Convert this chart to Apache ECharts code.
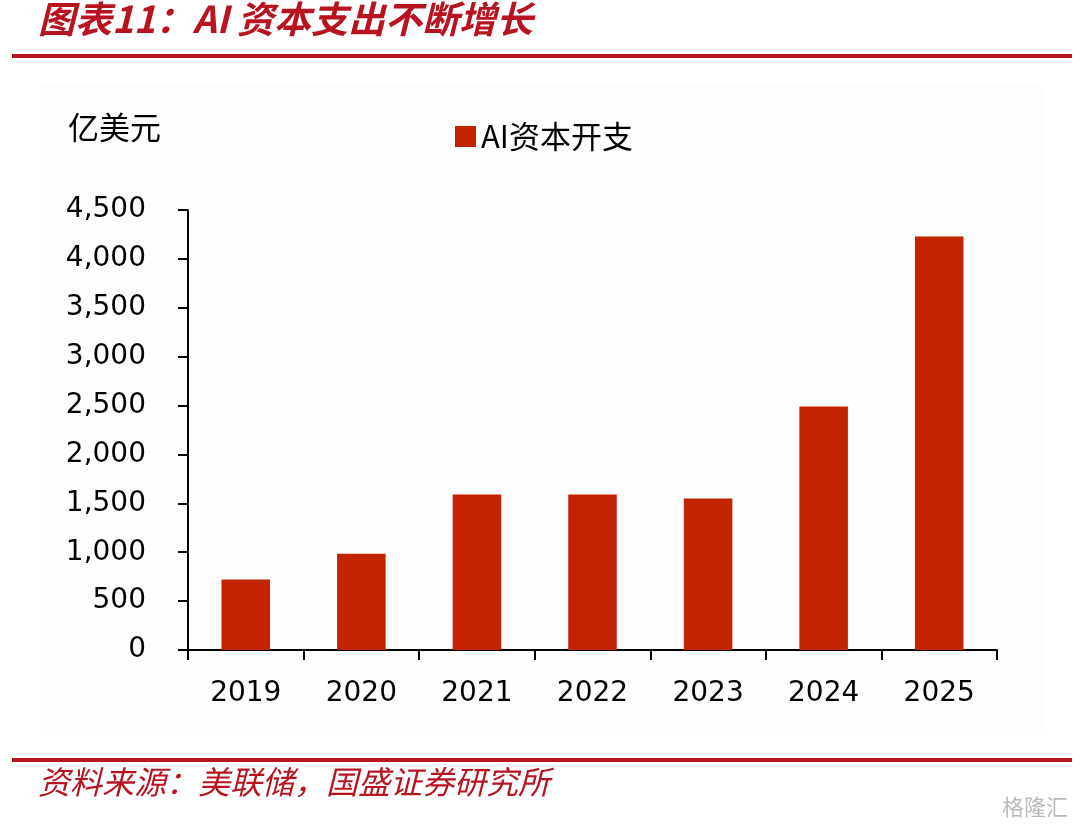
<!DOCTYPE html>
<html>
<head>
<meta charset="utf-8">
<script src="https://cdn.jsdelivr.net/npm/echarts@6/dist/echarts.min.js"></script>
<style>
html,body{margin:0;padding:0;background:#fff;}
#c{width:1080px;height:826px;}
</style>
</head>
<body>
<div id="c"></div>
<script>
const titleText = '图表11：AI 资本支出不断增长';
const sourceText = '资料来源：美联储，国盛证券研究所';
const unitText = '亿美元';
const seriesName = 'AI资本开支';
const years = ['2019', '2020', '2021', '2022', '2023', '2024', '2025'];
const capex = [720, 985, 1590, 1590, 1550, 2490, 4230];
const yTicks = { min: 0, max: 4500, interval: 500 };

const chart = echarts.init(document.getElementById('c'));
const fmt = v => String(v).replace(/\B(?=(\d{3})+(?!\d))/g, ',');
const red = '#B81420';
chart.setOption({
  animation: false,
  backgroundColor: '#fff',
  grid: { left: 188, right: 83, top: 210, bottom: 176 },
  legend: {
    data: [seriesName],
    left: 450, top: 116,
    itemWidth: 21, itemHeight: 21, itemGap: 6,
    icon: 'rect',
    textStyle: { fontSize: 31, color: '#000', fontFamily: 'Noto Sans CJK SC' }
  },
  xAxis: {
    type: 'category',
    data: years,
    axisLine: { lineStyle: { color: '#000', width: 2 } },
    axisTick: { show: true, length: 10, lineStyle: { color: '#000', width: 2 } },
    axisLabel: { fontSize: 28, color: '#000', fontFamily: 'DejaVu Sans', margin: 30 }
  },
  yAxis: {
    type: 'value',
    min: yTicks.min, max: yTicks.max, interval: yTicks.interval,
    axisLine: { show: true, lineStyle: { color: '#000', width: 2 } },
    axisTick: { show: true, length: 10, lineStyle: { color: '#000', width: 2 } },
    splitLine: { show: false },
    axisLabel: { fontSize: 28, color: '#000', fontFamily: 'DejaVu Sans', margin: 42, formatter: fmt }
  },
  series: [{
    name: seriesName,
    type: 'bar',
    data: capex,
    barWidth: '42%',
    itemStyle: { color: '#C42300' }
  }],
  graphic: [
    { type: 'rect', left: 40, top: 85, shape: { width: 1005, height: 650 }, style: { fill: '#fdfdfd' }, z: -10 },
    { type: 'text', left: 38, top: 0, style: { text: titleText, fill: red, font: 'italic bold 37px "Noto Sans CJK SC"' } },
    { type: 'rect', left: 12, top: 54, shape: { width: 1060, height: 4 }, style: { fill: red } },
    { type: 'text', left: 68, top: 112, style: { text: unitText, fill: '#000', font: '31px "Noto Sans CJK SC"' } },
    { type: 'rect', left: 12, top: 758, shape: { width: 1060, height: 4 }, style: { fill: red } },
    { type: 'text', left: 38, top: 766, style: { text: sourceText, fill: red, font: 'italic 32px "Noto Sans CJK SC"' } },
    { type: 'text', right: 12, top: 796, style: { text: '格隆汇', fill: '#bbb', font: '22px "Noto Sans CJK SC"' } }
  ]
});
</script>
</body>
</html>
